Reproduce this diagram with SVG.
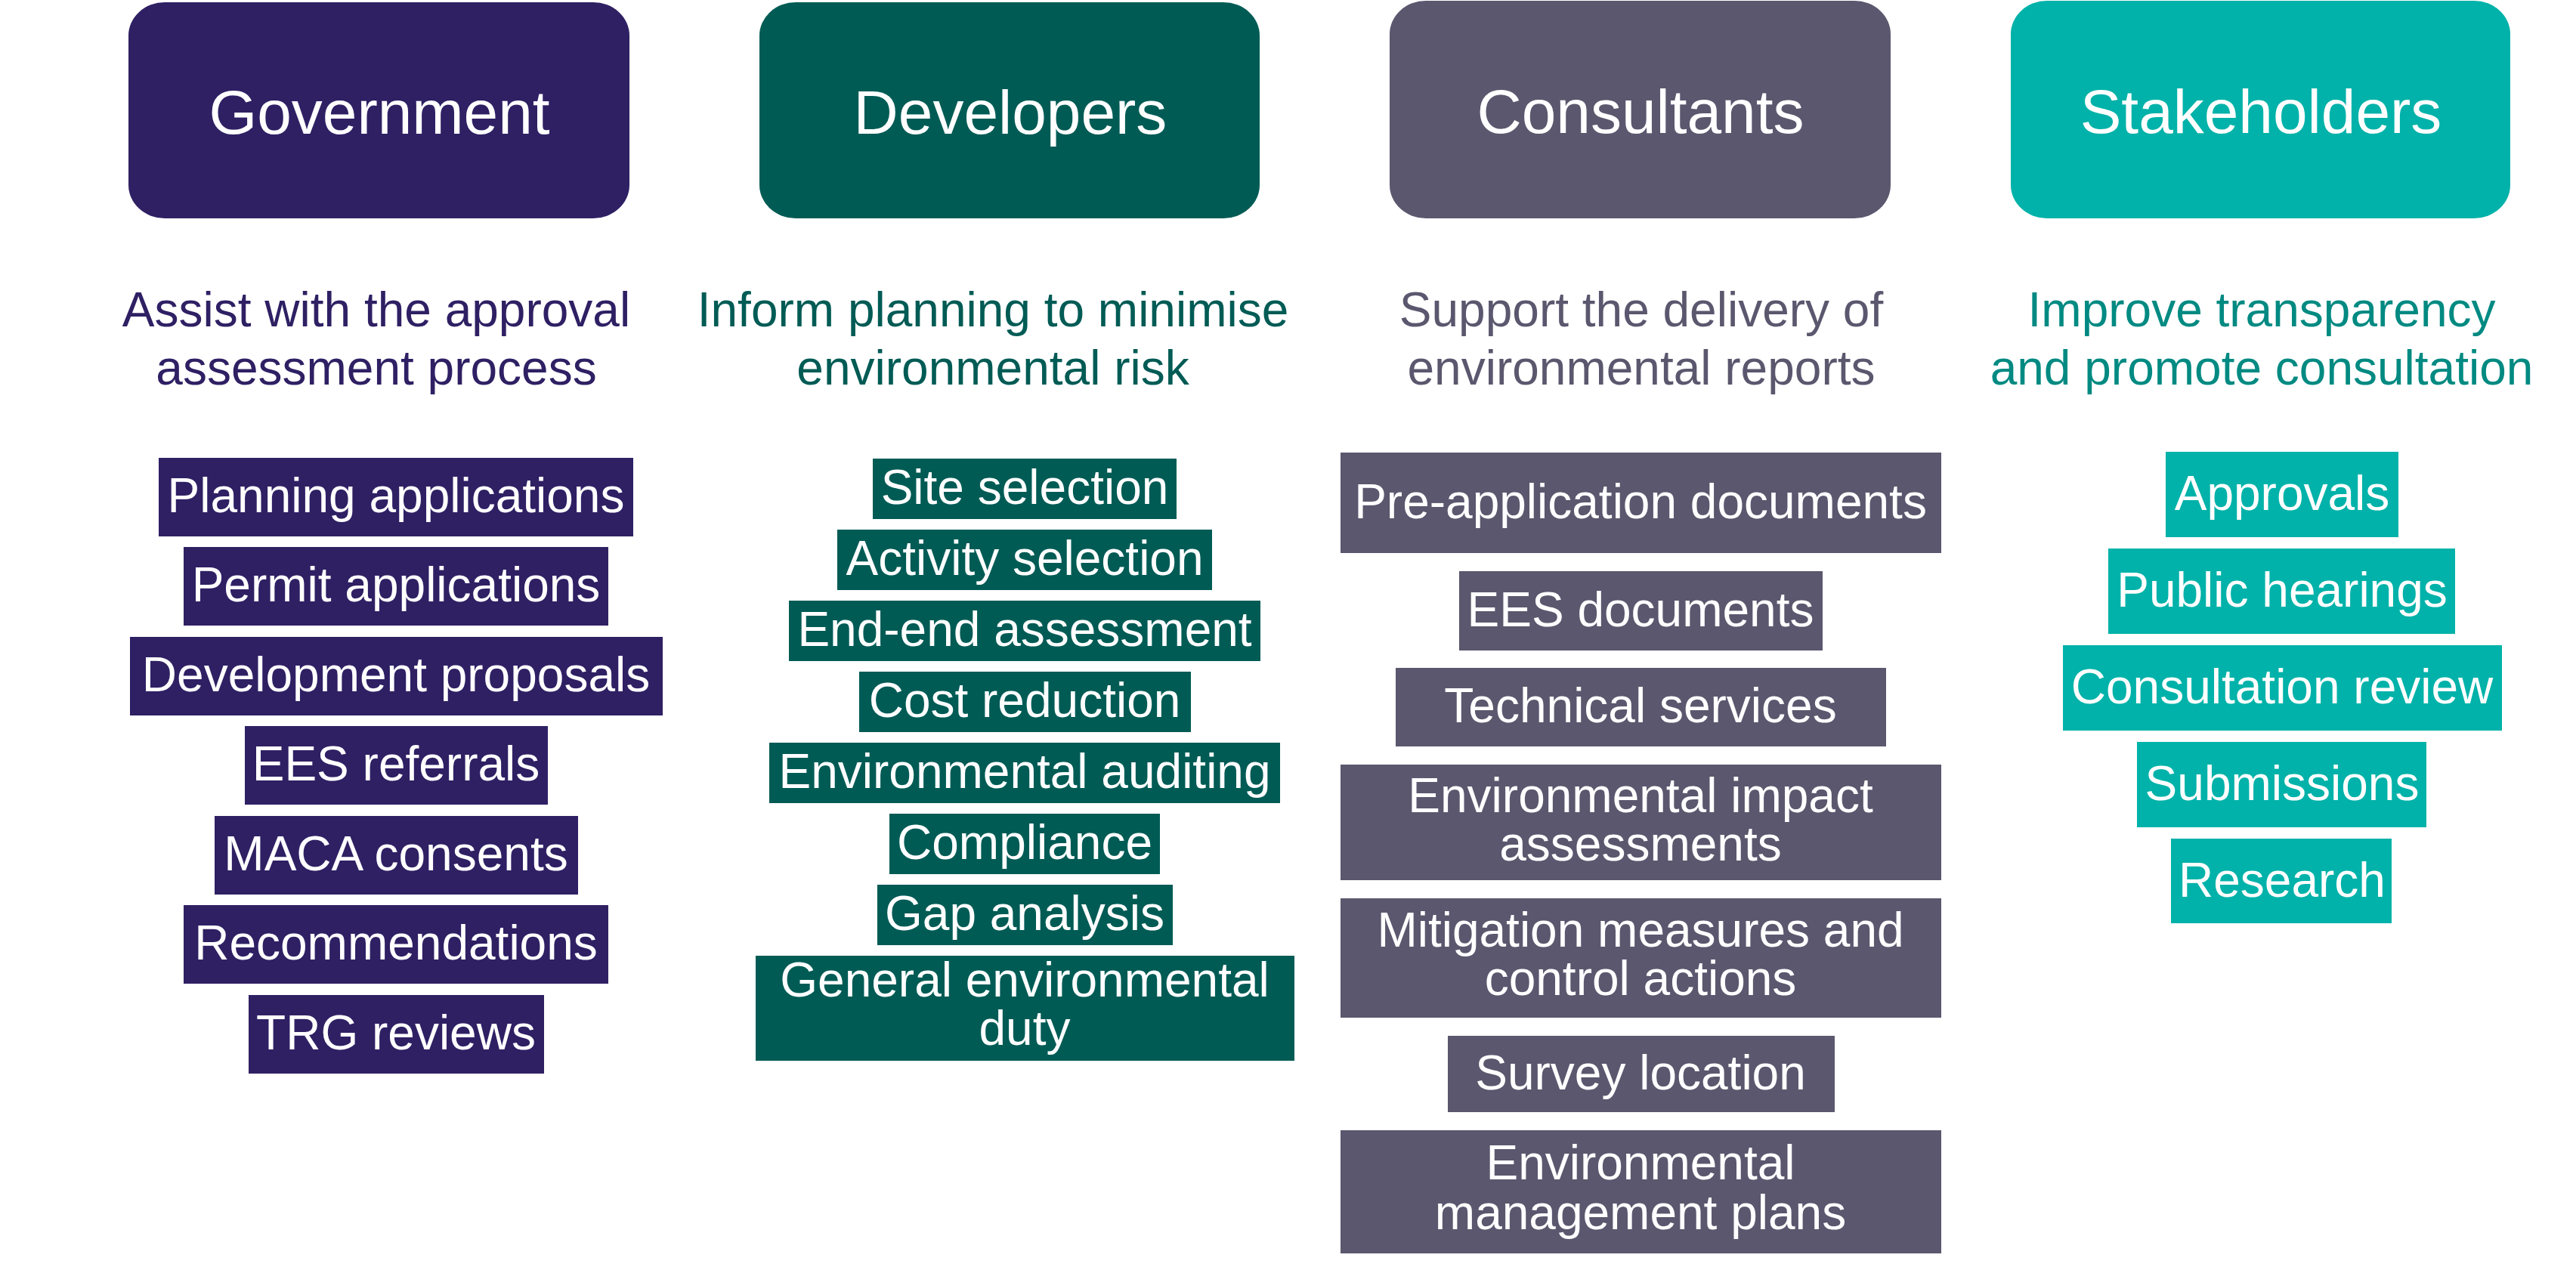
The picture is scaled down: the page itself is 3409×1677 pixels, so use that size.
<svg xmlns="http://www.w3.org/2000/svg" width="3409" height="1677" viewBox="0 0 3409 1677">
<style>
text{font-family:"Liberation Sans",Arial,sans-serif;text-anchor:middle}
.h{font-size:82px;fill:#fff}
.s{font-size:64px}
.i{font-size:64px;fill:#fff}
.gov{fill:#2F2064}
.dev{fill:#005B55}
.con{fill:#5B576E}
.stk{fill:#00B2A9}
.stkt{fill:#008A82}
</style>
<rect width="3409" height="1677" fill="#fff"/>
<g id="connectors"/>
<!-- Government -->
<g id="government">
<rect class="gov" x="170" y="3" width="663" height="286" rx="48" ry="44"/>
<text class="h" x="502" y="177">Government</text>
</g>
<g id="government-purpose">
<text class="s gov" x="498" y="432">Assist with the approval<tspan x="498" y="509">assessment process</tspan></text>
</g>
<g id="gov-items">
<g id="gov-1"><rect class="gov" x="210" y="606" width="628" height="104"/><text class="i" x="524" y="678">Planning applications</text></g>
<g id="gov-2"><rect class="gov" x="243" y="724" width="562" height="104"/><text class="i" x="524" y="796">Permit applications</text></g>
<g id="gov-3"><rect class="gov" x="172" y="843" width="705" height="104"/><text class="i" x="524" y="915">Development proposals</text></g>
<g id="gov-4"><rect class="gov" x="324" y="961" width="401" height="104"/><text class="i" x="524" y="1033">EES referrals</text></g>
<g id="gov-5"><rect class="gov" x="284" y="1080" width="481" height="104"/><text class="i" x="524" y="1152">MACA consents</text></g>
<g id="gov-6"><rect class="gov" x="243" y="1198" width="562" height="104"/><text class="i" x="524" y="1270">Recommendations</text></g>
<g id="gov-7"><rect class="gov" x="329" y="1317" width="391" height="104"/><text class="i" x="524" y="1389">TRG reviews</text></g>
</g>
<!-- Developers -->
<g id="developers">
<rect class="dev" x="1005" y="3" width="662" height="286" rx="48" ry="44"/>
<text class="h" x="1337" y="177">Developers</text>
</g>
<g id="developers-purpose">
<text class="s dev" x="1314" y="432">Inform planning to minimise<tspan x="1314" y="509">environmental risk</tspan></text>
</g>
<g id="dev-items">
<g id="dev-1"><rect class="dev" x="1155" y="607" width="402" height="80"/><text class="i" x="1356" y="667">Site selection</text></g>
<g id="dev-2"><rect class="dev" x="1108" y="701" width="496" height="80"/><text class="i" x="1356" y="761">Activity selection</text></g>
<g id="dev-3"><rect class="dev" x="1044" y="795" width="624" height="80"/><text class="i" x="1356" y="855">End-end assessment</text></g>
<g id="dev-4"><rect class="dev" x="1137" y="889" width="439" height="80"/><text class="i" x="1356" y="949">Cost reduction</text></g>
<g id="dev-5"><rect class="dev" x="1018" y="983" width="676" height="80"/><text class="i" x="1356" y="1043">Environmental auditing</text></g>
<g id="dev-6"><rect class="dev" x="1177" y="1077" width="358" height="80"/><text class="i" x="1356" y="1137">Compliance</text></g>
<g id="dev-7"><rect class="dev" x="1161" y="1171" width="391" height="80"/><text class="i" x="1356" y="1231">Gap analysis</text></g>
<g id="dev-8"><rect class="dev" x="1000" y="1265" width="713" height="139"/><text class="i" x="1356" y="1319">General environmental<tspan x="1356" y="1383">duty</tspan></text></g>
</g>
<!-- Consultants -->
<g id="consultants">
<rect class="con" x="1839" y="1" width="663" height="288" rx="48" ry="44"/>
<text class="h" x="2171" y="176">Consultants</text>
</g>
<g id="consultants-purpose">
<text class="s con" x="2172" y="432">Support the delivery of<tspan x="2172" y="509">environmental reports</tspan></text>
</g>
<g id="con-items">
<g id="con-1"><rect class="con" x="1774" y="599" width="795" height="133"/><text class="i" x="2171" y="686">Pre-application documents</text></g>
<g id="con-2"><rect class="con" x="1931" y="756" width="481" height="105"/><text class="i" x="2171" y="829">EES documents</text></g>
<g id="con-3"><rect class="con" x="1847" y="884" width="649" height="104"/><text class="i" x="2171" y="956">Technical services</text></g>
<g id="con-4"><rect class="con" x="1774" y="1012" width="795" height="153"/><text class="i" x="2171" y="1075">Environmental impact<tspan x="2171" y="1139">assessments</tspan></text></g>
<g id="con-5"><rect class="con" x="1774" y="1189" width="795" height="158"/><text class="i" x="2171" y="1253">Mitigation measures and<tspan x="2171" y="1317">control actions</tspan></text></g>
<g id="con-6"><rect class="con" x="1916" y="1371" width="512" height="101"/><text class="i" x="2171" y="1442">Survey location</text></g>
<g id="con-7"><rect class="con" x="1774" y="1496" width="795" height="163"/><text class="i" x="2171" y="1561">Environmental<tspan x="2171" y="1627">management plans</tspan></text></g>
</g>
<!-- Stakeholders -->
<g id="stakeholders">
<rect class="stk" x="2661" y="1" width="661" height="288" rx="48" ry="44"/>
<text class="h" x="2992" y="176">Stakeholders</text>
</g>
<g id="stakeholders-purpose">
<text class="s stkt" x="2993" y="432">Improve transparency<tspan x="2993" y="509">and promote consultation</tspan></text>
</g>
<g id="stk-items">
<g id="stk-1"><rect class="stk" x="2866" y="598" width="308" height="113"/><text class="i" x="3020" y="675">Approvals</text></g>
<g id="stk-2"><rect class="stk" x="2790" y="726" width="459" height="113"/><text class="i" x="3020" y="803">Public hearings</text></g>
<g id="stk-3"><rect class="stk" x="2730" y="854" width="581" height="113"/><text class="i" x="3020" y="931">Consultation review</text></g>
<g id="stk-4"><rect class="stk" x="2828" y="982" width="383" height="113"/><text class="i" x="3020" y="1059">Submissions</text></g>
<g id="stk-5"><rect class="stk" x="2873" y="1110" width="292" height="112"/><text class="i" x="3020" y="1187">Research</text></g>
</g>
</svg>
